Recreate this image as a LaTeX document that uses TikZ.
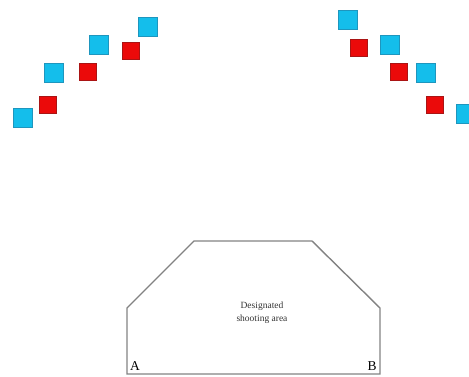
\documentclass[tikz,border=0pt]{standalone}
\usepackage{fontspec}
\setmainfont{Liberation Serif}
\definecolor{sqcyan}{RGB}{20,190,235}
\definecolor{sqcyanedge}{RGB}{30,150,190}
\definecolor{sqred}{RGB}{235,10,10}
\definecolor{sqrededge}{RGB}{170,20,20}
\definecolor{areagray}{RGB}{130,130,130}
\begin{document}
\begin{tikzpicture}[x=1pt,y=-1pt,
  cyansq/.style={draw=sqcyanedge,line width=0.6pt,fill=sqcyan,minimum size=19pt,inner sep=0pt},
  redsq/.style={draw=sqrededge,line width=0.6pt,fill=sqred,minimum size=17pt,inner sep=0pt},
  arealine/.style={draw=areagray,line width=1.4pt,line join=miter},
  cornerlbl/.style={font=\fontsize{13.5}{15}\selectfont,inner sep=0pt}]
\useasboundingbox (0,0) rectangle (469,377);
% left diagonal of squares
\node[cyansq] (c1) at (22.5,117.5) {};
\node[cyansq] (c2) at (54,72.5) {};
\node[cyansq] (c3) at (99,44.5) {};
\node[cyansq] (c4) at (148,26.5) {};
\node[redsq] (r1) at (47.5,104.5) {};
\node[redsq] (r2) at (87.5,72) {};
\node[redsq] (r3) at (130.5,51) {};
% right diagonal of squares
\node[cyansq] (c5) at (347.5,19.5) {};
\node[cyansq] (c6) at (390,44.5) {};
\node[cyansq] (c7) at (425.5,72.5) {};
\node[cyansq] (c8) at (466,113.5) {};
\node[redsq] (r4) at (359,48) {};
\node[redsq] (r5) at (398.5,72) {};
\node[redsq] (r6) at (434.5,104.5) {};
% designated area
\coordinate (p1) at (127,374);
\coordinate (p2) at (127,308);
\coordinate (p3) at (194,241);
\coordinate (p4) at (312,241);
\coordinate (p5) at (380,308);
\coordinate (p6) at (380,374);
\draw[arealine] (p1) -- (p2) -- (p3) -- (p4) -- (p5) -- (p6) -- cycle;
\node[align=center,font=\fontsize{9.5}{13}\selectfont,text=black!80] (lbl) at (262,313) {Designated\\shooting area};
\node[cornerlbl] (A) at (135,366) {A};
\node[cornerlbl] (B) at (372,366) {B};
\end{tikzpicture}
\end{document}
